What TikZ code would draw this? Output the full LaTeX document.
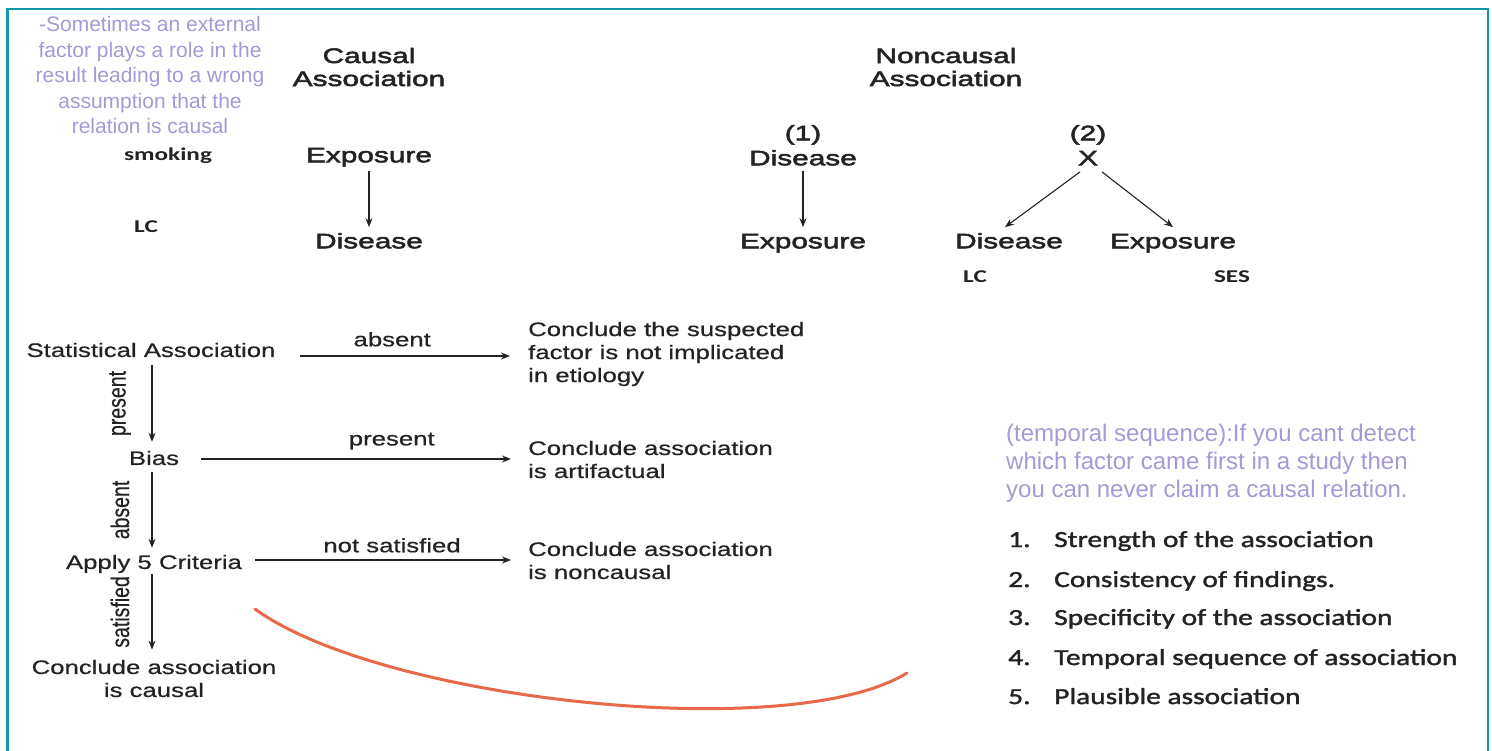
\documentclass[tikz,border=0pt]{standalone}
\usepackage{fontspec}
\usetikzlibrary{arrows.meta}
\newfontfamily\pf{Liberation Sans}
\newfontfamily\upf[FakeStretch=1.42,FakeBold=2.5]{Liberation Sans}
\newfontfamily\lowf[FakeStretch=1.32,FakeBold=0.6]{Liberation Sans}
\newfontfamily\rotf[FakeBold=0.6]{Liberation Sans}
\newfontfamily\listf[FakeStretch=1.28,FakeBold=1.6]{Carlito}
\newfontfamily\smf[FakeStretch=1.4]{Carlito}
\definecolor{frame}{RGB}{18,152,168}
\definecolor{lav}{RGB}{167,152,214}
\definecolor{curvered}{RGB}{232,104,74}
\definecolor{ink}{RGB}{35,35,35}
\tikzset{
  purp/.style={text=lav, inner sep=0pt, font=\pf\fontsize{21}{25.5}\selectfont},
  purpr/.style={text=lav, inner sep=0pt, align=left, anchor=west, font=\pf\fontsize{24}{28}\selectfont},
  up/.style={text=ink, inner sep=0pt, align=center, font=\upf\fontsize{21}{23}\selectfont},
  ups/.style={up, text height=15pt, text depth=4.4pt},
  low/.style={text=ink, inner sep=0pt, align=center, font=\lowf\fontsize{19.5}{23}\selectfont},
  lows/.style={low, text height=14pt, text depth=4.1pt},
  lowl/.style={low, align=left, anchor=west},
  sm/.style={text=ink, inner sep=0pt, text height=13pt, text depth=3.8pt, font=\smf\bfseries\fontsize{18}{20}\selectfont},
  lst/.style={text=ink, inner sep=0pt, anchor=west, text height=15pt, text depth=5pt, font=\listf\fontsize{23}{26}\selectfont},
  arr/.style={draw=ink, line width=1.1pt, -{Stealth[length=9pt,width=7pt]}},
  lbl/.style={text=ink, inner sep=0pt, font=\lowf\fontsize{19.5}{23}\selectfont},
  rlbl/.style={text=ink, inner sep=0pt, font=\rotf\fontsize{19.5}{23}\selectfont},
}
\begin{document}
\begin{tikzpicture}[x=1pt,y=-1pt]
\useasboundingbox (0,0) rectangle (1492,751);
\fill[white] (0,0) rectangle (1492,751);
\draw[frame, line width=2.5pt] (7.5,751) -- (7.5,9) -- (1488,9) -- (1488,751);

% top-left note
\node[purp, align=center] (note1) at (150,75) {-Sometimes an external\\factor plays a role in the\\result leading to a wrong\\assumption that the\\relation is causal};
\node[sm] (smoking) at (168,156) {smoking};
\node[sm] (lc1) at (146,228) {LC};

% causal
\node[up] (causal) at (369,67) {Causal\\Association};
\node[ups] (ex1) at (369,157) {Exposure};
\node[ups] (dis1) at (369,243) {Disease};
\draw[arr] (ex1) -- (dis1) [shorten <=4pt, shorten >=6pt];

% noncausal
\node[up] (noncausal) at (946,67) {Noncausal\\Association};
\node[ups] (n1) at (803,135) {(1)};
\node[ups] (dis2) at (803,160) {Disease};
\node[ups] (ex2) at (803,243) {Exposure};
\draw[arr] (dis2) -- (ex2) [shorten <=1pt, shorten >=6pt];
\node[ups] (n2) at (1088,135) {(2)};
\node[ups] (xx) at (1088,160) {X};
\node[ups] (dis3) at (1009,243) {Disease};
\node[ups] (ex3) at (1173,243) {Exposure};
\draw[arr] ([xshift=-8pt,yshift=-2pt]xx.south) -- ([xshift=-4pt,yshift=6pt]dis3.north);
\draw[arr] ([xshift=14pt,yshift=-2pt]xx.south) -- ([xshift=0pt,yshift=6pt]ex3.north);
\node[sm] (lc2) at (975,278) {LC};
\node[sm] (ses) at (1232,278) {SES};

% flowchart
\coordinate (col) at (152,0);
\node[lows] (stat) at (151,352) {Statistical Association};
\node[lowl] (c1) at (528,354) {Conclude the suspected\\factor is not implicated\\in etiology};
\node[lows] (bias) at (154,460) {Bias};
\node[lowl] (c2) at (528,459.5) {Conclude association\\is artifactual};
\node[lows] (apply) at (154,564) {Apply 5 Criteria};
\node[lowl] (c3) at (528,560.5) {Conclude association\\is noncausal};
\node[low] (c4) at (154,678.5) {Conclude association\\is causal};

\draw[arr] ([xshift=24pt,yshift=-4pt]stat.east) -- ([xshift=-18pt,yshift=-4pt]stat.east -| c1.west)
  node[lbl, pos=0.44, above=9pt] {absent};
\draw[arr] ([xshift=22pt,yshift=1pt]bias.east) -- ([xshift=-17pt,yshift=1pt]bias.east -| c2.west)
  node[lbl, pos=0.615, above=9pt] {present};
\draw[arr] ([xshift=13pt,yshift=4pt]apply.east) -- ([xshift=-17pt,yshift=4pt]apply.east -| c3.west)
  node[lbl, pos=0.535, above=7pt] {not satisfied};

\draw[arr] ([yshift=-4pt]stat.south -| col) -- ([yshift=9pt]bias.north -| col)
  node[rlbl, midway, xshift=-32pt, rotate=90] {\scalebox{1}[1.3]{present}};
\draw[arr] ([yshift=-3pt]bias.south -| col) -- ([yshift=7pt]apply.north -| col)
  node[rlbl, midway, xshift=-32pt, rotate=90] {\scalebox{1}[1.3]{absent}};
\draw[arr] ([yshift=-1pt]apply.south -| col) -- ([yshift=10pt]c4.north -| col)
  node[rlbl, midway, xshift=-32pt, rotate=90] {\scalebox{1}[1.3]{satisfied}};

% red curve
\draw[curvered, line width=3pt, line cap=round] (255,609) .. controls (380,700) and (790,745) .. (907,673);

% right side
\node[purpr] (note2) at (1006,463) {(temporal sequence):If you cant detect\\which factor came first in a study then\\you can never claim a causal relation.};
\node[lst] (k1) at (1008,542) {1.};
\node[lst] (t1) at (1054,542) {Strength of the association};
\node[lst] (k2) at (1008,582) {2.};
\node[lst] (t2) at (1054,582) {Consistency of findings.};
\node[lst] (k3) at (1008,620) {3.};
\node[lst] (t3) at (1054,620) {Specificity of the association};
\node[lst] (k4) at (1008,660) {4.};
\node[lst] (t4) at (1054,660) {Temporal sequence of association};
\node[lst] (k5) at (1008,699) {5.};
\node[lst] (t5) at (1054,699) {Plausible association};
\end{tikzpicture}
\end{document}
